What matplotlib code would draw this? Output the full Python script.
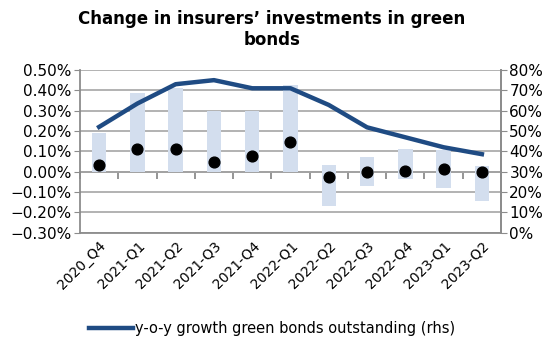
import numpy as np
import matplotlib.pyplot as plt
from matplotlib.ticker import PercentFormatter

plt.rcParams['font.family'] = ['DejaVu Sans']

quarters = ['2020_Q4', '2021-Q1', '2021-Q2', '2021-Q3', '2021-Q4', '2022-Q1',
            '2022-Q2', '2022-Q3', '2022-Q4', '2023-Q1', '2023-Q2']
# range of quarterly change (lhs, %)
range_low = [0.00, 0.00, 0.00, 0.00, 0.00, 0.00, -0.17, -0.07, -0.035, -0.08, -0.145]
range_high = [0.19, 0.385, 0.41, 0.30, 0.30, 0.425, 0.035, 0.07, 0.11, 0.105, 0.03]
# central value (lhs, %)
central = [0.033, 0.11, 0.11, 0.048, 0.079, 0.146, -0.026, 0.0, 0.005, 0.015, 0.0]
# y-o-y growth of green bonds outstanding (rhs, %)
yoy_growth = [52, 63.5, 73, 75, 71, 71, 62.8, 51.8, 46.9, 42, 38.6]

grey = '#8C8C8C'
bar_col = '#D3DEEE'
line_col = '#1F4B83'

fig = plt.figure(figsize=(5.44, 3.43), dpi=100)
ax = fig.add_axes([0.147, 0.3216, 0.774, 0.4744])
x = np.arange(len(quarters))

heights = np.array(range_high) - np.array(range_low)
ax.bar(x, heights, bottom=range_low, width=0.38, color=bar_col, zorder=2)
ax.scatter(x, central, s=60, color='black', zorder=4)

ax.set_ylim(-0.30, 0.50)
ax.set_yticks(np.arange(-0.30, 0.501, 0.10))
ax.yaxis.set_major_formatter(PercentFormatter(decimals=2))
ax.set_xlim(-0.5, len(quarters) - 0.5)
ax.set_xticks(x)
ax.set_xticklabels(quarters, rotation=45, ha='right', rotation_mode='anchor', fontsize=10)
ax.tick_params(axis='x', length=0, pad=4)
ax.tick_params(axis='y', length=4, color=grey, labelsize=11, pad=2)
ax.grid(axis='y', color='#A6A6A6', linewidth=1.2, zorder=0)
ax.set_axisbelow(True)
ax.spines['top'].set_visible(False)
for side in ['left', 'bottom', 'right']:
    ax.spines[side].set_color(grey)
    ax.spines[side].set_linewidth(1.3)

# category axis crossing at zero with boundary tick marks
zero_frac = (0 - (-0.30)) / 0.80
sec = ax.secondary_xaxis(zero_frac)
sec.set_xticks(np.arange(-0.5, len(quarters), 1.0))
sec.tick_params(direction='out', length=5, color=grey, width=1.3, labelbottom=False, labeltop=False)
sec.spines['bottom'].set_color(grey)
sec.spines['bottom'].set_linewidth(1.3)

ax2 = ax.twinx()
ax2.plot(x, yoy_growth, color=line_col, linewidth=3.2,
         label='y-o-y growth green bonds outstanding (rhs)', zorder=5)
ax2.set_ylim(0, 80)
ax2.set_yticks(np.arange(0, 81, 10))
ax2.yaxis.set_major_formatter(PercentFormatter(decimals=0))
ax2.tick_params(axis='y', length=4, color=grey, labelsize=11, pad=2)
for side in ['top', 'left', 'bottom']:
    ax2.spines[side].set_visible(False)
ax2.spines['right'].set_color(grey)
ax2.spines['right'].set_linewidth(1.3)

fig.suptitle('Change in insurers\u2019 investments in green\nbonds', fontsize=12,
             fontweight='bold', y=0.972, linespacing=1.25)

fig.legend(loc='lower center', bbox_to_anchor=(0.5, -0.018), frameon=False, fontsize=10.5,
           handlelength=3.0, handletextpad=0.1)

fig.savefig('out.png', dpi=100)
